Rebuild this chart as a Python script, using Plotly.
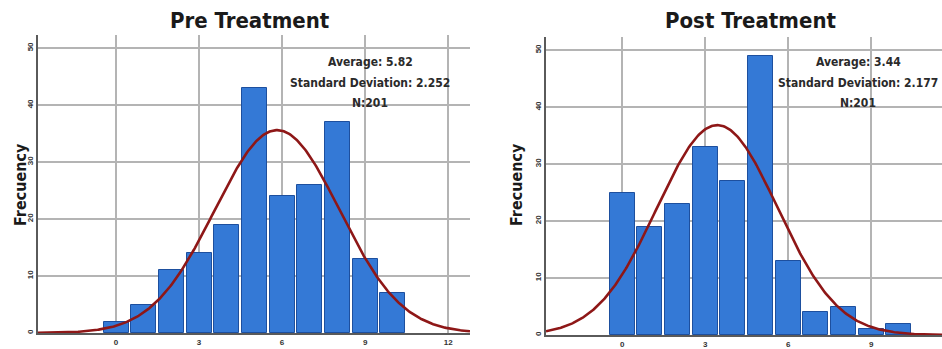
import numpy as np
import plotly.graph_objects as go

# Score bins (integer scores) and frequencies for each treatment phase
scores = [0, 1, 2, 3, 4, 5, 6, 7, 8, 9, 10]
pre_counts = [2, 5, 11, 14, 19, 43, 24, 26, 37, 13, 7]
post_counts = [25, 19, 23, 33, 27, 49, 13, 4, 5, 1, 2]

pre_mean, pre_sd = 5.82, 2.252
post_mean, post_sd = 3.44, 2.177
n_total = 201

titles = ["Pre Treatment", "Post Treatment"]
x_ticks = [0, 3, 6, 9, 12]
y_ticks = [0, 10, 20, 30, 40, 50]

W, H = 942, 349
NARROW = "DejaVu Sans Condensed, Liberation Sans Narrow, sans-serif"
BAR_FILL = "#3479d6"
BAR_EDGE = "#1d4f9e"
CURVE = "#8e1717"
GRID = "#b4b4b4"
AXIS = "#5a5a5a"


def px_x(p):
    return p / W


def px_y(p):
    return 1 - p / H


def normal_curve(mean, sd, lo, hi):
    xs = np.linspace(lo, hi, 400)
    ys = n_total / (sd * np.sqrt(2 * np.pi)) * np.exp(-0.5 * ((xs - mean) / sd) ** 2)
    return xs, ys


fig = go.Figure()

panels = [
    dict(counts=pre_counts, mean=pre_mean, sd=pre_sd, xr=[-2.82, 12.79],
         xdom=[px_x(38), px_x(470)], ydom=[px_y(333), px_y(35)], yr=[0, 52.3],
         xa="x", ya="y"),
    dict(counts=post_counts, mean=post_mean, sd=post_sd, xr=[-2.75, 11.56],
         xdom=[px_x(546), 1.0], ydom=[px_y(335), px_y(37)], yr=[0, 52.3],
         xa="x2", ya="y2"),
]

for p in panels:
    fig.add_trace(go.Bar(
        x=scores, y=p["counts"], width=0.9,
        marker=dict(color=BAR_FILL, line=dict(color=BAR_EDGE, width=1)),
        xaxis=p["xa"], yaxis=p["ya"], showlegend=False, hoverinfo="x+y",
    ))
    cx, cy = normal_curve(p["mean"], p["sd"], p["xr"][0], p["xr"][1])
    fig.add_trace(go.Scatter(
        x=cx, y=cy, mode="lines", line=dict(color=CURVE, width=2.6),
        xaxis=p["xa"], yaxis=p["ya"], showlegend=False, hoverinfo="skip",
    ))

axis_common = dict(
    showgrid=True, gridcolor=GRID, gridwidth=1.5,
    showline=True, linecolor=AXIS, linewidth=2,
    zeroline=False, ticks="", fixedrange=True,
    tickfont=dict(family="Liberation Sans, Arial, sans-serif", size=8,
                  color="#333333", weight="bold"),
)

layout_axes = {}
for i, p in enumerate(panels):
    sfx = "" if i == 0 else "2"
    layout_axes["xaxis" + sfx] = dict(
        axis_common, domain=p["xdom"], range=p["xr"], tickvals=x_ticks,
        anchor="y" + sfx,
    )
    layout_axes["yaxis" + sfx] = dict(
        axis_common, domain=p["ydom"], range=p["yr"], tickvals=y_ticks,
        tickangle=-90, anchor="x" + sfx,
    )

fig.update_layout(
    width=W, height=H,
    margin=dict(l=0, r=0, t=0, b=0),
    paper_bgcolor="white", plot_bgcolor="white",
    bargap=0,
    **layout_axes,
)

annotations = []
# Panel titles
for cx_px, text in zip([250, 750], titles):
    annotations.append(dict(
        text=text, x=px_x(cx_px), y=px_y(21), xref="paper", yref="paper",
        xanchor="center", yanchor="middle", showarrow=False,
        font=dict(family=NARROW, size=22, color="#1a1a1a", weight="bold"),
    ))
# Y-axis titles
for cx_px in [20, 516]:
    annotations.append(dict(
        text="Frecuency", x=px_x(cx_px), y=px_y(185), xref="paper", yref="paper",
        xanchor="center", yanchor="middle", showarrow=False, textangle=-90,
        font=dict(family=NARROW, size=16, color="#1a1a1a", weight="bold"),
    ))
# Summary statistics
stats = [
    (370, pre_mean, pre_sd),
    (858, post_mean, post_sd),
]
for cx_px, m, s in stats:
    lines = [f"Average: {m:.2f}", f"Standard Deviation: {s:.3f}", f"N:{n_total}"]
    for ly, line in zip([62, 83, 103], lines):
        annotations.append(dict(
            text=line, x=px_x(cx_px), y=px_y(ly), xref="paper", yref="paper",
            xanchor="center", yanchor="middle", showarrow=False,
            font=dict(family=NARROW, size=12, color="#2a2a2a", weight="bold"),
        ))

fig.update_layout(annotations=annotations)

fig.write_html("out.html")
